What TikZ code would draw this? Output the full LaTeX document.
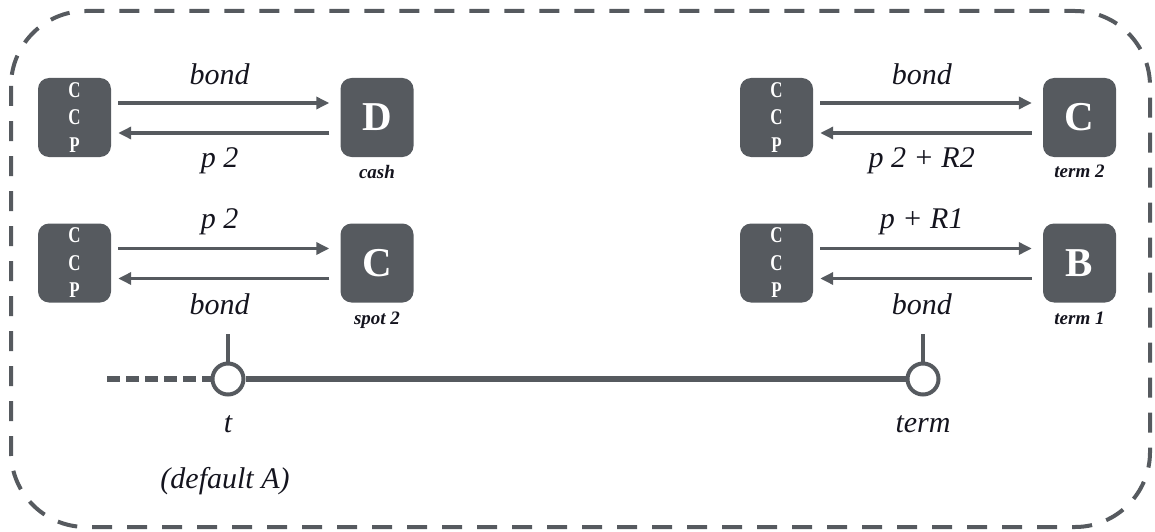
\documentclass[tikz,border=0pt]{standalone}
\usepackage{fontspec}
\setmainfont{Liberation Serif}
\usetikzlibrary{arrows.meta}
\definecolor{dg}{HTML}{565A5F}
\definecolor{ink}{HTML}{14141E}
\newcommand{\nar}[1]{\scalebox{0.75}[1]{#1}}
\tikzset{
  box/.style={fill=dg, rounded corners=11pt, minimum width=73pt, minimum height=79pt, inner sep=0pt, text=white},
  ccpbox/.style={box, font=\bfseries\fontsize{22.5}{27.5}\selectfont, align=center},
  letterbox/.style={box, font=\bfseries\fontsize{41}{41}\selectfont},
  arr/.style={draw=dg, line width=3.5pt, -{Triangle[length=13pt,width=12pt]}},
  lbl/.style={text=ink, font=\itshape\fontsize{30}{30}\selectfont, inner sep=0pt},
  sub/.style={text=ink, font=\bfseries\itshape\fontsize{19}{19}\selectfont, inner sep=0pt},
  tick/.style={circle, draw=dg, line width=4pt, fill=white, minimum size=31pt, inner sep=0pt},
}
\begin{document}
\begin{tikzpicture}[x=1pt, y=-1pt]
\useasboundingbox (0,0) rectangle (1155,532);
\draw[dg, line width=4pt, dash pattern=on 20pt off 15pt, rounded corners=75pt] (11,11) rectangle (1150,527);

% left top
\node[ccpbox] (c1) at (74.5,117.5) {\nar{C}\\\nar{C}\\\nar{P}};
\node[letterbox] (d) at (377,117.5) {D};
\node[sub, anchor=north] (cash) at ([yshift=-8pt]d.south) {cash};
\draw[arr] ([shift={(7,-14.5)}]c1.east) -- node[lbl, pos=0.48, yshift=29pt] (l1) {bond} ([shift={(-11,-14.5)}]d.west);
\draw[arr] ([shift={(-11,15.5)}]d.west) -- node[lbl, pos=0.52, yshift=-28pt] (l2) {p 2} ([shift={(7,15.5)}]c1.east);

% left bottom
\node[ccpbox] (c2) at (74.5,263) {\nar{C}\\\nar{C}\\\nar{P}};
\node[letterbox] (c) at (377,263) {C};
\node[sub, anchor=north] (spot) at ([yshift=-9pt]c.south) {spot 2};
\draw[arr] ([shift={(7,-14.5)}]c2.east) -- node[lbl, pos=0.48, yshift=27pt] (l3) {p 2} ([shift={(-11,-14.5)}]c.west);
\draw[arr] ([shift={(-11,15.5)}]c.west) -- node[lbl, pos=0.52, yshift=-26pt] (l4) {bond} ([shift={(7,15.5)}]c2.east);

% right top
\node[ccpbox] (c3) at (776.5,117.5) {\nar{C}\\\nar{C}\\\nar{P}};
\node[letterbox] (ct) at (1079.5,117.5) {C};
\node[sub, anchor=north] (term2) at ([yshift=-8pt]ct.south) {term 2};
\draw[arr] ([shift={(7,-14.5)}]c3.east) -- node[lbl, pos=0.48, yshift=29pt] (r1) {bond} ([shift={(-11,-14.5)}]ct.west);
\draw[arr] ([shift={(-11,15.5)}]ct.west) -- node[lbl, pos=0.52, yshift=-28pt] (r2) {p 2 + R2} ([shift={(7,15.5)}]c3.east);

% right bottom
\node[ccpbox] (c4) at (776.5,263) {\nar{C}\\\nar{C}\\\nar{P}};
\node[letterbox] (b) at (1079.5,263) {B};
\node[sub, anchor=north] (term1) at ([yshift=-9pt]b.south) {term 1};
\draw[arr] ([shift={(7,-14.5)}]c4.east) -- node[lbl, pos=0.48, yshift=27pt] (r3) {p + R1} ([shift={(-11,-14.5)}]b.west);
\draw[arr] ([shift={(-11,15.5)}]b.west) -- node[lbl, pos=0.52, yshift=-26pt] (r4) {bond} ([shift={(7,15.5)}]c4.east);

% timeline
\node[tick] (t0) at (228,379) {};
\node[tick] (t1) at (923,379) {};
\coordinate (start) at (107,379);
\coordinate (s0) at (228,334);
\coordinate (s1) at (923,334);
\draw[dg, line width=5.5pt] (t0.east) -- (t1.west);
\draw[dg, line width=5.5pt, dash pattern=on 13pt off 6pt] (start) -- (t0.west);
\draw[dg, line width=3.5pt] (t0.north) -- (s0);
\draw[dg, line width=3.5pt] (t1.north) -- (s1);
\node[lbl] (tl) at (228,424) {t};
\node[lbl] (terml) at (923,424) {term};
\node[lbl] (def) at (225,481) {(default A)};
\end{tikzpicture}
\end{document}
